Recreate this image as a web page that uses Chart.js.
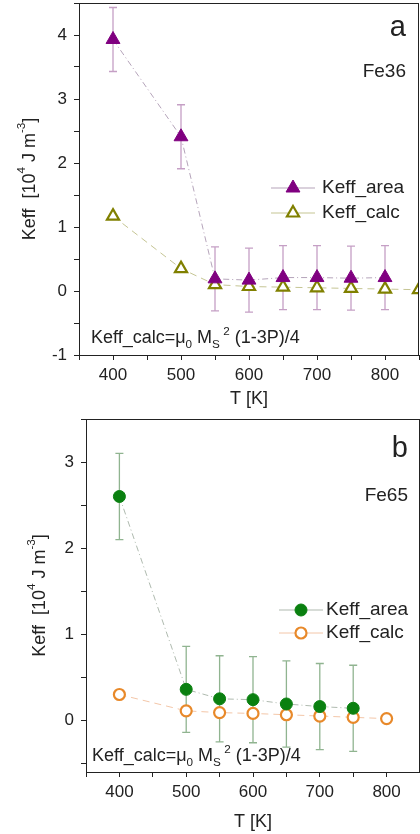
<!DOCTYPE html>
<html>
<head>
<meta charset="utf-8">
<script src="https://cdn.jsdelivr.net/npm/chart.js@4"></script>
<style>
  html, body { margin: 0; background: #fff; overflow: hidden; }
  canvas { display: block; }
</style>
</head>
<body>
<canvas id="chartA" width="420" height="410"></canvas>
<canvas id="chartB" width="420" height="424"></canvas>
<script>
// Panel a (Fe36)
const tempsA = [400, 500, 550, 600, 650, 700, 750, 800];
const areaA = [3.93, 2.41, 0.19, 0.17, 0.21, 0.21, 0.20, 0.21];
const areaErrA = [0.5, 0.5, 0.5, 0.5, 0.5, 0.5, 0.5, 0.5];
const calcTempsA = [400, 500, 550, 600, 650, 700, 750, 800, 850];
const calcA = [1.17, 0.35, 0.10, 0.07, 0.06, 0.05, 0.04, 0.03, 0.02];

// Panel b (Fe65)
const tempsB = [400, 500, 550, 600, 650, 700, 750];
const areaB = [2.60, 0.36, 0.25, 0.24, 0.19, 0.16, 0.14];
const areaErrB = [0.5, 0.5, 0.5, 0.5, 0.5, 0.5, 0.5];
const calcTempsB = [400, 500, 550, 600, 650, 700, 750, 800];
const calcB = [0.30, 0.11, 0.09, 0.08, 0.065, 0.05, 0.035, 0.02];

const FONT = '"Liberation Sans", Arial, sans-serif';
Chart.defaults.font.family = FONT;
Chart.defaults.color = '#222';

const pts = (xs, ys) => xs.map((x, i) => ({ x, y: ys[i] }));
const isWhole = (v, step) => Math.abs(v / step - Math.round(v / step)) < 1e-6;

// vertical error bars with caps, drawn under the markers
const errorBars = {
  id: 'errorBars',
  beforeDatasetsDraw(chart) {
    const { ctx, scales: { x, y } } = chart;
    chart.data.datasets.forEach(ds => {
      if (!ds.errors) return;
      ctx.save();
      ctx.strokeStyle = ds.errorColor;
      ctx.lineWidth = 1.3;
      ds.data.forEach((p, i) => {
        const px = x.getPixelForValue(p.x);
        const top = y.getPixelForValue(p.y + ds.errors[i]);
        const bot = y.getPixelForValue(p.y - ds.errors[i]);
        ctx.beginPath();
        ctx.moveTo(px, top); ctx.lineTo(px, bot);
        ctx.moveTo(px - 4, top); ctx.lineTo(px + 4, top);
        ctx.moveTo(px - 4, bot); ctx.lineTo(px + 4, bot);
        ctx.stroke();
      });
      ctx.restore();
    });
  }
};

// text with sub/superscripts: parts = [[text, '' | 'sub' | 'sup'], ...]
function richWidth(ctx, parts, size) {
  return parts.reduce((w, [t, kind]) => {
    ctx.font = `${kind ? size * 0.65 : size}px ${FONT}`;
    return w + ctx.measureText(t).width;
  }, 0);
}
function drawRich(ctx, parts, x, y, size) {
  let cx = x;
  parts.forEach(([t, kind]) => {
    const s = kind ? size * 0.65 : size;
    const dy = kind === 'sub' ? size * 0.3 : kind === 'sup' ? -size * 0.45 : 0;
    ctx.font = `${s}px ${FONT}`;
    ctx.fillText(t, cx, y + dy);
    cx += ctx.measureText(t).width;
  });
}

const yTitle = [['Keff  [10', ''], ['4', 'sup'], [' J m', ''], ['-3', 'sup'], [']', '']];
const formula = [['Keff_calc=', ''], ['\u03bc', ''], ['0', 'sub'], [' M', ''], ['S', 'sub'],
  [' 2', 'sup'], [' (1-3P)/4', '']];

// frame, labels, legend, formula, rotated y title
const panelDecor = {
  id: 'panelDecor',
  afterDraw(chart, args, o) {
    const { ctx, chartArea: a } = chart;
    ctx.save();
    ctx.strokeStyle = '#222';
    ctx.lineWidth = 1;
    ctx.strokeRect(a.left + 0.5, a.top + 0.5, a.right - a.left - 1, a.bottom - a.top);

    ctx.fillStyle = '#222';
    ctx.textAlign = 'right';
    ctx.textBaseline = 'alphabetic';
    ctx.font = `29px ${FONT}`;
    ctx.fillText(o.letter, o.textRight, o.letterBaseline);
    ctx.font = `19px ${FONT}`;
    ctx.fillText(o.sample, o.textRight, o.sampleBaseline);

    // legend
    ctx.textAlign = 'left';
    ctx.textBaseline = 'middle';
    chart.data.datasets.forEach((ds, i) => {
      const yy = o.legendRows[i];
      ctx.strokeStyle = ds.borderColor;
      ctx.lineWidth = 1;
      ctx.beginPath();
      ctx.moveTo(o.legendX - 22, yy); ctx.lineTo(o.legendX + 22, yy);
      ctx.stroke();
      ctx.fillStyle = ds.pointBackgroundColor;
      ctx.strokeStyle = ds.pointBorderColor;
      ctx.lineWidth = ds.pointBorderWidth;
      Chart.helpers.drawPoint(ctx, {
        pointStyle: ds.pointStyle, radius: ds.pointRadius,
        borderWidth: ds.pointBorderWidth, rotation: 0
      }, o.legendX, yy);
      ctx.fillStyle = '#222';
      ctx.font = `19px ${FONT}`;
      ctx.fillText(ds.label, o.legendText, yy);
    });

    ctx.textBaseline = 'alphabetic';
    drawRich(ctx, formula, o.formulaX, o.formulaBaseline, 18);

    // y axis title
    const w = richWidth(ctx, yTitle, 18);
    ctx.translate(o.yTitleX, (a.top + a.bottom) / 2);
    ctx.rotate(-Math.PI / 2);
    ctx.textBaseline = 'middle';
    drawRich(ctx, yTitle, -w / 2, 0, 18);
    ctx.restore();
  }
};

function makeChart(id, datasets, opt) {
  return new Chart(document.getElementById(id), {
    type: 'line',
    data: { datasets },
    options: {
      responsive: false,
      animation: false,
      layout: {
        autoPadding: false,
        padding: { top: opt.padTop, right: opt.padRight, left: 0, bottom: 0 }
      },
      scales: {
        x: {
          type: 'linear',
          min: 350, max: 850,
          afterFit: s => {
            s.height = opt.xHeight;
            s.paddingLeft = 0;
            s.paddingRight = 0;
          },
          border: { color: '#222', width: 1 },
          grid: { drawOnChartArea: false, tickLength: 5, color: '#222' },
          ticks: {
            stepSize: 50, padding: 5, font: { size: 17 }, maxRotation: 0, autoSkip: false,
            callback: v => (isWhole(v, 100) && v < 850 ? v : '')
          },
          title: { display: true, text: 'T [K]', font: { size: 18 }, padding: { top: 0, bottom: opt.titlePad } }
        },
        y: {
          min: opt.yMin, max: opt.yMax,
          afterFit: s => {
            s.width = opt.yWidth;
            s.paddingTop = 0;
            s.paddingBottom = 0;
          },
          border: { color: '#222', width: 1 },
          grid: { drawOnChartArea: false, tickLength: 5, color: '#222' },
          ticks: {
            stepSize: 0.5, includeBounds: false, padding: 7, font: { size: 17 },
            callback: v => (isWhole(v, 1) ? Math.round(v) : '')
          }
        }
      },
      plugins: {
        legend: { display: false },
        tooltip: { enabled: false },
        panelDecor: opt.decor
      }
    },
    plugins: [errorBars, panelDecor]
  });
}

makeChart('chartA', [
  {
    label: 'Keff_area',
    data: pts(tempsA, areaA),
    errors: areaErrA,
    errorColor: 'rgba(150, 80, 150, 0.55)',
    borderColor: 'rgba(120, 90, 130, 0.55)',
    borderWidth: 1,
    borderDash: [6, 3, 1, 3],
    pointStyle: 'triangle',
    pointRadius: 8,
    pointBackgroundColor: '#800080',
    pointBorderColor: '#800080',
    pointBorderWidth: 1
  },
  {
    label: 'Keff_calc',
    data: pts(calcTempsA, calcA),
    borderColor: 'rgba(150, 150, 60, 0.55)',
    borderWidth: 1,
    borderDash: [7, 5],
    pointStyle: 'triangle',
    pointRadius: 7,
    pointBackgroundColor: '#ffffff',
    pointBorderColor: '#808000',
    pointBorderWidth: 2.2
  }
], {
  padTop: 3, padRight: 1, xHeight: 55, yWidth: 79, titlePad: 0,
  yMin: -1, yMax: 4.5,
  decor: {
    letter: 'a', letterBaseline: 36, sample: 'Fe36', sampleBaseline: 77, textRight: 406,
    legendX: 293, legendRows: [188, 213], legendText: 322,
    formulaX: 91, formulaBaseline: 343, yTitleX: 30
  }
});

makeChart('chartB', [
  {
    label: 'Keff_area',
    data: pts(tempsB, areaB),
    errors: areaErrB,
    errorColor: 'rgba(70, 130, 70, 0.6)',
    borderColor: 'rgba(110, 130, 110, 0.55)',
    borderWidth: 1,
    borderDash: [6, 3, 1, 3],
    pointStyle: 'circle',
    pointRadius: 6,
    pointBackgroundColor: '#0a8010',
    pointBorderColor: '#0a8010',
    pointBorderWidth: 1
  },
  {
    label: 'Keff_calc',
    data: pts(calcTempsB, calcB),
    borderColor: 'rgba(235, 160, 110, 0.6)',
    borderWidth: 1,
    borderDash: [7, 5],
    pointStyle: 'circle',
    pointRadius: 5.5,
    pointBackgroundColor: '#ffffff',
    pointBorderColor: '#e8892a',
    pointBorderWidth: 2.2
  }
], {
  padTop: 9, padRight: 0, xHeight: 62, yWidth: 86, titlePad: 1,
  yMin: -0.6, yMax: 3.5,
  decor: {
    letter: 'b', letterBaseline: 47, sample: 'Fe65', sampleBaseline: 91, textRight: 408,
    legendX: 301, legendRows: [200, 223], legendText: 326,
    formulaX: 92, formulaBaseline: 351, yTitleX: 40
  }
});
</script>
</body>
</html>
